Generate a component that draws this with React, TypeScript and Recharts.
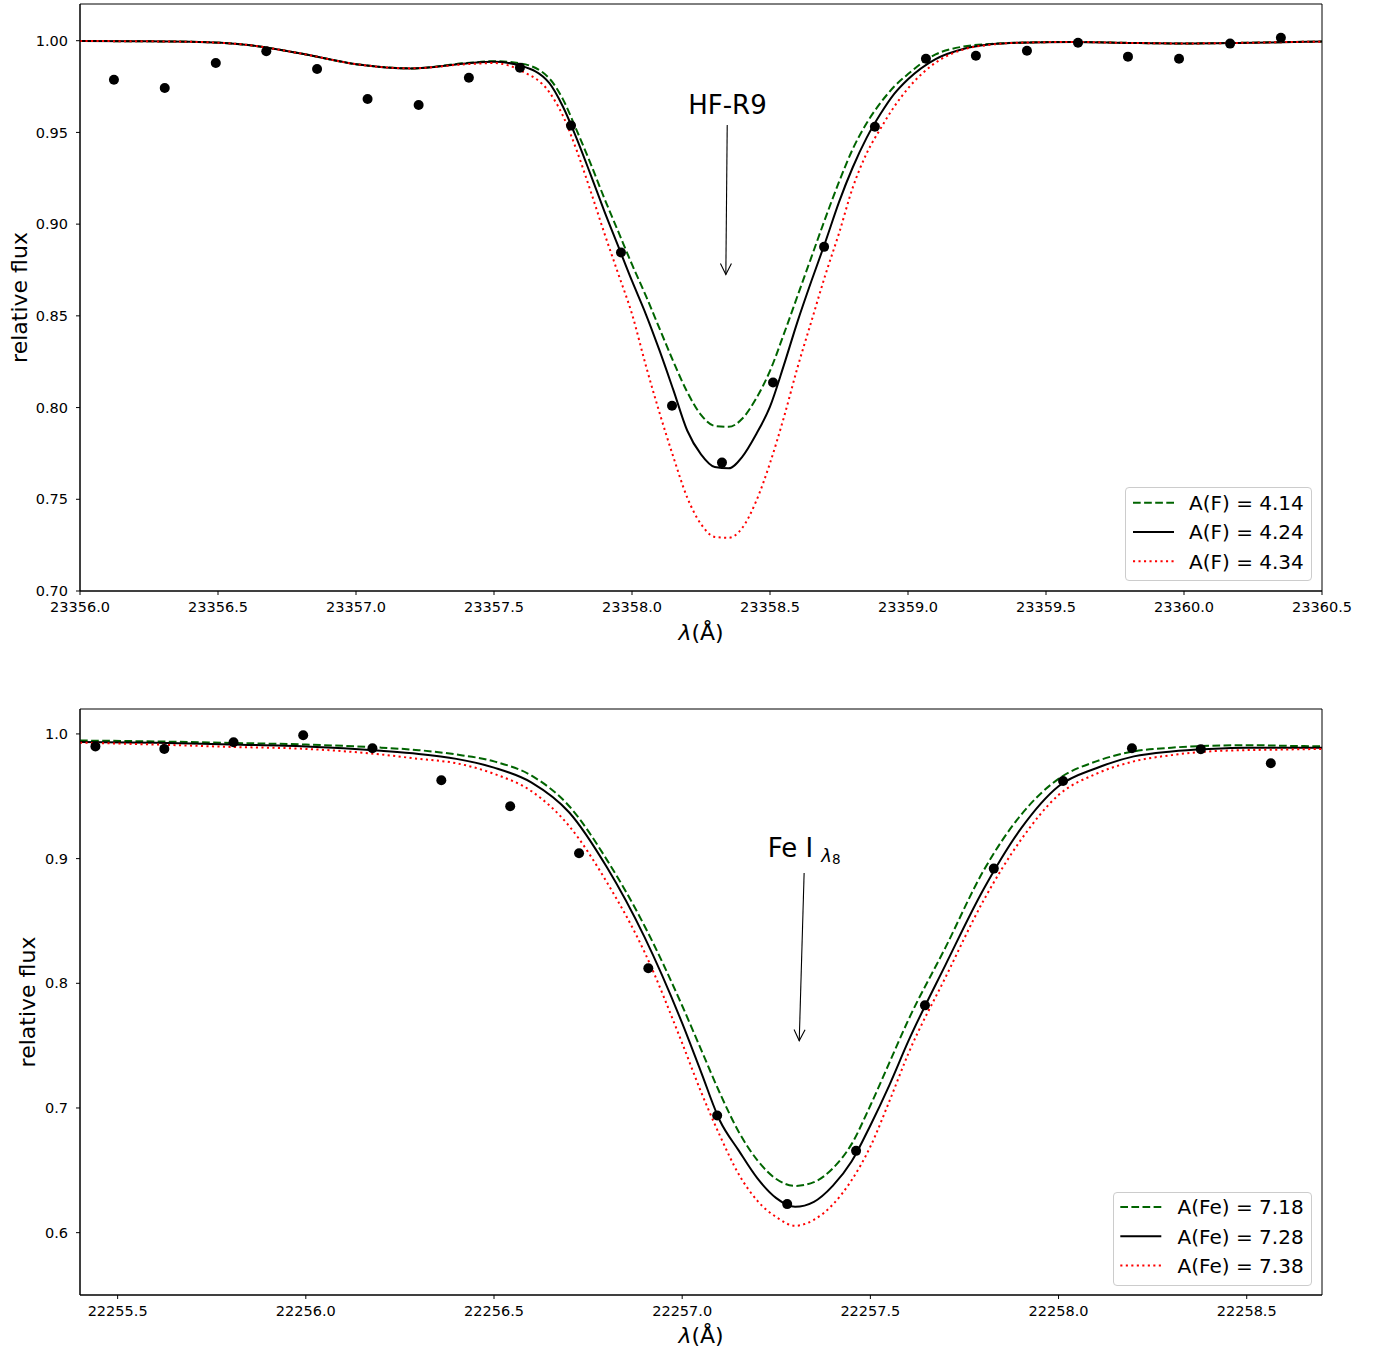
import React from 'react';
import {
  ComposedChart, Line, Scatter, XAxis, YAxis, Legend,
  ReferenceArea, ReferenceLine, ReferenceDot,
} from 'recharts';

const FONT = '"DejaVu Sans", sans-serif';

// ---------- HF R9 line (upper panel) ----------
const hfWave = [
  23356.0, 23356.2, 23356.4, 23356.6, 23356.8, 23357.0, 23357.2, 23357.4, 23357.5, 23357.6,
  23357.7, 23357.75, 23357.8, 23357.85, 23357.9, 23357.95, 23358.0, 23358.05, 23358.1, 23358.15,
  23358.2, 23358.25, 23358.3, 23358.35, 23358.4, 23358.45, 23358.5, 23358.55, 23358.6, 23358.65,
  23358.7, 23358.75, 23358.8, 23358.85, 23358.9, 23358.95, 23359.0, 23359.1, 23359.2, 23359.3,
  23359.4, 23359.6, 23359.8, 23360.0, 23360.2, 23360.4, 23360.5,
];
const hfFlux414 = [
  0.9998, 0.9997, 0.9994, 0.9978, 0.993, 0.9872, 0.9849, 0.9878, 0.9888, 0.9875,
  0.9795, 0.968, 0.951, 0.933, 0.914, 0.896, 0.878, 0.861, 0.843, 0.825,
  0.8085, 0.796, 0.79, 0.7895, 0.794, 0.805, 0.82, 0.84, 0.861, 0.882,
  0.903, 0.923, 0.941, 0.955, 0.966, 0.975, 0.9818, 0.9925, 0.9968, 0.9982,
  0.9989, 0.9993, 0.9988, 0.9985, 0.9988, 0.9993, 0.9995,
];
const hfFlux424 = [
  0.9998, 0.9997, 0.9994, 0.9978, 0.993, 0.9872, 0.9849, 0.9876, 0.9885, 0.9862,
  0.977, 0.964, 0.9465, 0.927, 0.907, 0.888, 0.869, 0.851, 0.831, 0.8095,
  0.7875, 0.7745, 0.7676, 0.7669, 0.7733, 0.7855, 0.8005, 0.823, 0.847, 0.869,
  0.89, 0.912, 0.931, 0.947, 0.96, 0.971, 0.979, 0.99, 0.9955, 0.998,
  0.9989, 0.9993, 0.9988, 0.9985, 0.9988, 0.9993, 0.9995,
];
const hfFlux434 = [
  0.9998, 0.9997, 0.9994, 0.9978, 0.993, 0.9872, 0.9849, 0.9872, 0.9878, 0.9835,
  0.972, 0.959, 0.94, 0.918, 0.895, 0.873, 0.851, 0.823, 0.797, 0.773,
  0.751, 0.7365, 0.7295, 0.729, 0.7345, 0.749, 0.7697, 0.7945, 0.822, 0.847,
  0.872, 0.895, 0.92, 0.9385, 0.952, 0.964, 0.974, 0.988, 0.9952, 0.9978,
  0.9989, 0.9993, 0.9988, 0.9985, 0.9988, 0.9993, 0.9995,
];
const hfObsWave = [
  23356.123, 23356.307, 23356.492, 23356.675, 23356.859, 23357.042, 23357.227, 23357.409,
  23357.594, 23357.779, 23357.96, 23358.145, 23358.326, 23358.511, 23358.696, 23358.88,
  23359.065, 23359.246, 23359.431, 23359.616, 23359.797, 23359.982, 23360.167, 23360.351,
];
const hfObsFlux = [
  0.9787, 0.9742, 0.9878, 0.9942, 0.9846, 0.9682, 0.9649, 0.9798,
  0.9853, 0.9537, 0.8845, 0.801, 0.770, 0.8137, 0.8876, 0.9531,
  0.9902, 0.9918, 0.9945, 0.9989, 0.9913, 0.9902, 0.9984, 1.0016,
];
const hfXTicks = [23356.0, 23356.5, 23357.0, 23357.5, 23358.0, 23358.5, 23359.0, 23359.5, 23360.0, 23360.5];
const hfYTicks = [0.7, 0.75, 0.8, 0.85, 0.9, 0.95, 1.0];
const hfNames = ['A(F) = 4.14', 'A(F) = 4.24', 'A(F) = 4.34'];

// ---------- Fe I line (lower panel) ----------
const feWave = [
  22255.4, 22255.6, 22255.8, 22256.0, 22256.2, 22256.3, 22256.4, 22256.5, 22256.6, 22256.7,
  22256.8, 22256.9, 22257.0, 22257.05, 22257.1, 22257.15, 22257.2, 22257.25, 22257.3, 22257.35,
  22257.4, 22257.45, 22257.5, 22257.55, 22257.6, 22257.7, 22257.8, 22257.9, 22258.0, 22258.1,
  22258.2, 22258.3, 22258.4, 22258.5, 22258.6, 22258.7,
];
const feFlux718 = [
  0.9947, 0.994, 0.9928, 0.9915, 0.989, 0.987, 0.9835, 0.978, 0.9665, 0.942,
  0.899, 0.846, 0.782, 0.747, 0.712, 0.681, 0.658, 0.643, 0.6375, 0.6405,
  0.6515, 0.671, 0.702, 0.736, 0.77, 0.829, 0.89, 0.935, 0.964, 0.978,
  0.986, 0.989, 0.9905, 0.991, 0.9905, 0.99,
];
const feFlux728 = [
  0.9936, 0.993, 0.9915, 0.99, 0.9865, 0.984, 0.98, 0.973, 0.961, 0.937,
  0.893, 0.837, 0.768, 0.729, 0.69, 0.666, 0.6435, 0.6277, 0.6207, 0.6247,
  0.6375, 0.657, 0.686, 0.718, 0.753, 0.815, 0.875, 0.924, 0.958, 0.9725,
  0.982, 0.986, 0.988, 0.989, 0.989, 0.989,
];
const feFlux738 = [
  0.993, 0.9915, 0.9896, 0.988, 0.9835, 0.98, 0.9765, 0.968, 0.954, 0.926,
  0.881, 0.825, 0.752, 0.713, 0.678, 0.647, 0.6255, 0.6125, 0.6055, 0.6103,
  0.6225, 0.642, 0.669, 0.705, 0.743, 0.805, 0.866, 0.915, 0.951, 0.968,
  0.978, 0.983, 0.986, 0.987, 0.9875, 0.988,
];
const feObsWave = [
  22255.441, 22255.624, 22255.808, 22255.993, 22256.177, 22256.36, 22256.543, 22256.726, 22256.91,
  22257.093, 22257.279, 22257.462, 22257.645, 22257.828, 22258.012, 22258.195, 22258.378, 22258.564,
];
const feObsFlux = [
  0.99, 0.988, 0.9933, 0.999, 0.9885, 0.9629, 0.942, 0.9043, 0.812,
  0.694, 0.6229, 0.6656, 0.7823, 0.892, 0.9623, 0.9885, 0.9878, 0.9765,
];
const feXTicks = [22255.5, 22256.0, 22256.5, 22257.0, 22257.5, 22258.0, 22258.5];
const feYTicks = [0.6, 0.7, 0.8, 0.9, 1.0];
const feNames = ['A(Fe) = 7.18', 'A(Fe) = 7.28', 'A(Fe) = 7.38'];

type Series = { key: string; name: string; color: string; dash?: string };
type Pt = { x: number; y: number };

const styles = [
  { key: 'low', color: '#006400', dash: '7.7 3.4' },
  { key: 'mid', color: '#000000', dash: undefined },
  { key: 'high', color: '#ff0000', dash: '2.1 3.4' },
];

function makeRows(wave: number[], low: number[], mid: number[], high: number[]) {
  return wave.map((x, i) => ({ x, low: low[i], mid: mid[i], high: high[i] }));
}
function makePoints(wave: number[], flux: number[]) {
  return wave.map((x, i) => ({ x, y: flux[i] }));
}

function arrowShape(p: any) {
  const { x1, y1, x2, y2 } = p;
  const a = Math.atan2(y2 - y1, x2 - x1);
  const len = 11;
  const half = 5.5;
  const bx = x2 - len * Math.cos(a);
  const by = y2 - len * Math.sin(a);
  const nx = -Math.sin(a) * half;
  const ny = Math.cos(a) * half;
  return (
    <g>
      <line x1={x1} y1={y1} x2={x2} y2={y2} stroke="#000" strokeWidth={1.1} />
      <polyline
        points={`${bx + nx},${by + ny} ${x2},${y2} ${bx - nx},${by - ny}`}
        fill="none" stroke="#000" strokeWidth={1.1}
      />
    </g>
  );
}

function legendContent(series: Series[], w: number, h: number, sampleX: number, textX: number, rowTop: number) {
  return (props: any) => {
    const items = (props.payload || [])
      .filter((e: any) => series.some((s) => s.key === e.dataKey))
      .sort((a: any, b: any) =>
        series.findIndex((s) => s.key === a.dataKey) - series.findIndex((s) => s.key === b.dataKey));
    return (
      <div style={{
        width: w, height: h, boxSizing: 'border-box', border: '1px solid #cccccc',
        borderRadius: 4, background: 'rgba(255,255,255,0.8)',
      }}>
        <svg width={w - 2} height={h - 2} style={{ display: 'block' }}>
          {items.map((e: any, i: number) => {
            const s = series.find((q) => q.key === e.dataKey)!;
            const cy = rowTop + i * 29.3;
            return (
              <g key={s.key}>
                <line x1={sampleX} x2={sampleX + 41} y1={cy} y2={cy}
                  stroke={s.color} strokeWidth={2} strokeDasharray={s.dash} />
                <text x={textX} y={cy} dy="0.36em" fontSize={20} fontFamily={FONT} fill="#000">
                  {e.value}
                </text>
              </g>
            );
          })}
        </svg>
      </div>
    );
  };
}

type PanelProps = {
  height: number;
  marginTop: number;
  xAxisH: number;
  xLabelOffset: number;
  yLabelX: number;
  rows: any[];
  points: Pt[];
  xDomain: [number, number];
  yDomain: [number, number];
  xTicks: number[];
  yTicks: number[];
  yDec: number;
  series: Series[];
  legendBox: { left: number; top: number; w: number; h: number; sampleX: number; textX: number; rowTop: number };
  noteAt: Pt;
  noteFrom: Pt;
  noteTo: Pt;
  noteText: React.ReactNode;
};

function Panel(p: PanelProps) {
  const tickStyle = { fill: '#000', fontSize: 14.5, fontFamily: FONT };
  const lb = p.legendBox;
  return (
    <ComposedChart
      width={1374}
      height={p.height}
      data={p.rows}
      margin={{ top: p.marginTop, right: 52, bottom: 0, left: 0 }}
    >
      <XAxis
        dataKey="x" type="number" domain={p.xDomain} allowDataOverflow
        ticks={p.xTicks} interval={0} tickFormatter={(v: number) => v.toFixed(1)}
        tickSize={4} tickMargin={7} height={p.xAxisH}
        axisLine={{ stroke: '#000' }} tickLine={{ stroke: '#000' }} tick={tickStyle}
        label={{
          content: (lp: any) => {
            const vb = lp.viewBox || { x: 80, y: 0, width: 1242, height: p.xAxisH };
            return (
              <text x={vb.x + vb.width / 2} y={vb.y + vb.height - p.xLabelOffset}
                textAnchor="middle" fontSize={22} fontFamily={FONT} fill="#000">
                <tspan fontStyle="italic">λ</tspan>(Å)
              </text>
            );
          },
        }}
      />
      <YAxis
        type="number" domain={p.yDomain} allowDataOverflow
        ticks={p.yTicks} interval={0} tickFormatter={(v: number) => v.toFixed(p.yDec)}
        width={80} tickSize={4} tickMargin={8}
        axisLine={{ stroke: '#000' }} tickLine={{ stroke: '#000' }} tick={tickStyle}
        label={{
          content: (lp: any) => {
            const vb = lp.viewBox || { x: 0, y: p.marginTop, width: 80, height: 587 };
            const cy = vb.y + vb.height / 2;
            return (
              <text x={p.yLabelX} y={cy} transform={`rotate(-90, ${p.yLabelX}, ${cy})`}
                textAnchor="middle" fontSize={22} fontFamily={FONT} fill="#000">
                relative flux
              </text>
            );
          },
        }}
      />
      <ReferenceArea
        x1={p.xDomain[0]} x2={p.xDomain[1]} y1={p.yDomain[0]} y2={p.yDomain[1]}
        fill="none" fillOpacity={0} stroke="#000" strokeWidth={1} ifOverflow="visible"
      />
      {p.series.map((s) => (
        <Line
          key={s.key} dataKey={s.key} name={s.name} type="monotone"
          stroke={s.color} strokeWidth={2} strokeDasharray={s.dash}
          dot={false} activeDot={false} isAnimationActive={false}
        />
      ))}
      <Scatter
        data={p.points} dataKey="y" legendType="none" isAnimationActive={false}
        shape={(sp: any) => <circle cx={sp.cx} cy={sp.cy} r={5} fill="#000" />}
      />
      <ReferenceLine segment={[p.noteFrom, p.noteTo]} shape={arrowShape} ifOverflow="visible" />
      <ReferenceDot
        x={p.noteAt.x} y={p.noteAt.y} r={1} ifOverflow="visible"
        shape={(dp: any) => (
          <text x={dp.cx} y={dp.cy} textAnchor="middle" fontSize={26} fontFamily={FONT} fill="#000">
            {p.noteText}
          </text>
        )}
      />
      <Legend
        layout="vertical" align="center" verticalAlign="middle"
        wrapperStyle={{ left: lb.left, top: lb.top, width: lb.w, height: lb.h }}
        content={legendContent(p.series, lb.w, lb.h, lb.sampleX, lb.textX, lb.rowTop)}
      />
    </ComposedChart>
  );
}

export default function App() {
  const hfSeries = styles.map((s, i) => ({ ...s, name: hfNames[i] }));
  const feSeries = styles.map((s, i) => ({ ...s, name: feNames[i] }));
  return (
    <div style={{
      position: 'absolute', left: 0, top: 0, width: 1374, height: 1354,
      background: '#fff', fontFamily: FONT,
    }}>
      <div style={{ position: 'absolute', left: 0, top: 0 }}>
        <Panel
          height={660} marginTop={4} xAxisH={69} xLabelOffset={20} yLabelX={27}
          rows={makeRows(hfWave, hfFlux414, hfFlux424, hfFlux434)}
          points={makePoints(hfObsWave, hfObsFlux)}
          xDomain={[23356.0, 23360.5]} yDomain={[0.7, 1.02]}
          xTicks={hfXTicks} yTicks={hfYTicks} yDec={2}
          series={hfSeries}
          legendBox={{ left: 1125, top: 487, w: 187, h: 94, sampleX: 7, textX: 63, rowTop: 14.7 }}
          noteAt={{ x: 23358.346, y: 0.96 }}
          noteFrom={{ x: 23358.345, y: 0.954 }}
          noteTo={{ x: 23358.34, y: 0.8725 }}
          noteText="HF-R9"
        />
      </div>
      <div style={{ position: 'absolute', left: 0, top: 660 }}>
        <Panel
          height={694} marginTop={49} xAxisH={59} xLabelOffset={11} yLabelX={35}
          rows={makeRows(feWave, feFlux718, feFlux728, feFlux738)}
          points={makePoints(feObsWave, feObsFlux)}
          xDomain={[22255.4, 22258.7]} yDomain={[0.55, 1.02]}
          xTicks={feXTicks} yTicks={feYTicks} yDec={1}
          series={feSeries}
          legendBox={{ left: 1112.7, top: 531.7, w: 199.3, h: 94, sampleX: 6.3, textX: 63.6, rowTop: 14 }}
          noteAt={{ x: 22257.324, y: 0.9014 }}
          noteFrom={{ x: 22257.324, y: 0.8885 }}
          noteTo={{ x: 22257.311, y: 0.754 }}
          noteText={
            <>
              <tspan>Fe I </tspan>
              <tspan fontStyle="italic" fontSize={18} dy={5}>λ</tspan>
              <tspan fontSize={13.5} dy={2}>8</tspan>
            </>
          }
        />
      </div>
    </div>
  );
}
